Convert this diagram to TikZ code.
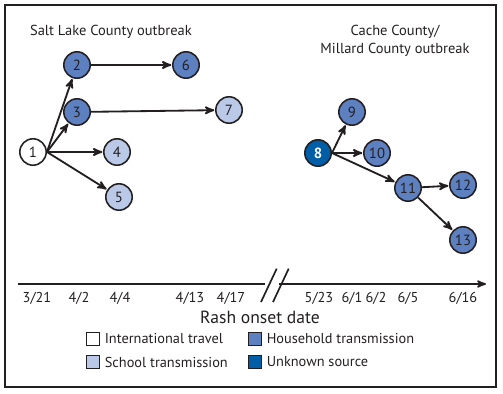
\documentclass[tikz,border=0pt]{standalone}
\usepackage{fontspec}
\setmainfont{PT Sans}
\usepackage{tikz}
\usetikzlibrary{arrows,positioning,calc}
\definecolor{household}{RGB}{93,128,193}
\definecolor{school}{RGB}{186,201,231}
\definecolor{unknown}{RGB}{0,94,166}
\definecolor{ink}{RGB}{35,31,32}
\tikzset{
 case/.style={circle, draw=ink, line width=1.1pt, minimum size=0.66cm, inner sep=0pt, font=\fontsize{10.5}{12}\selectfont, text=ink},
 travel/.style={case, fill=white},
 house/.style={case, fill=household},
 schl/.style={case, fill=school},
 unkn/.style={case, fill=unknown, text=white, font=\fontsize{10.5}{12}\selectfont\bfseries},
 datelbl/.style={font=\fontsize{10.2}{11}\selectfont, text=ink},
 keybox/.style={draw=ink, line width=1.1pt, minimum size=0.32cm, inner sep=0pt},
 keytext/.style={font=\fontsize{10.2}{11}\selectfont, text=ink, right=2pt of #1, inner sep=1pt}
}

\begin{document}
\begin{tikzpicture}[->,>=stealth',shorten >=0.5pt,auto,x=0.025cm,y=-0.025cm,
 semithick]
\useasboundingbox (0,0) rectangle (503,393);
\draw[-, line width=1.6pt, ink] (5,5) rectangle (496,387);
% titles
\node[font=\fontsize{10.3}{12.5}\selectfont, text=ink, anchor=west] (slc) at (25,32) {Salt Lake County outbreak};
\node[font=\fontsize{10.3}{12.5}\selectfont, text=ink, align=center] (cache) at (395,41) {Cache County/\\Millard County outbreak};
% cases
\node[travel] (c1) at (33,152) {1};
\node[house] (c2) at (77,65) {2};
\node[house] (c3) at (77,112) {3};
\node[schl] (c4) at (117,152) {4};
\node[schl] (c5) at (119,197) {5};
\node[house] (c6) at (186,65) {6};
\node[schl] (c7) at (229,110) {7};
\node[unkn] (c8) at (318,153) {8};
\node[house] (c9) at (352,112) {9};
\node[house] (c10) at (377,153) {10};
\node[house] (c11) at (408,188) {11};
\node[house] (c12) at (463,185) {12};
\node[house] (c13) at (463,240) {13};
% transmission
\path[ink, line width=1.3pt] (c1.east) edge (c2)
 (c1.east) edge (c3)
 (c1.east) edge (c4)
 (c1.east) edge (c5)
 (c2) edge (c6)
 (c3) edge (c7)
 (c8.east) edge (c9)
 (c8.east) edge (c10)
 (c8.east) edge (c11)
 (c11) edge (c12)
 (c11) edge (c13);
% time axis
\coordinate (axL) at (18,284);
\coordinate (brkA) at (266,284);
\coordinate (brkB) at (279,284);
\coordinate (axR) at (486,284);
\draw[-, ink, line width=1.2pt] (axL) -- (brkA);
\draw[ink, line width=1.2pt, shorten >=0pt] (brkB) -- (axR);
\draw[-, ink, line width=1.2pt] ($(brkA)+(-5,18)$) -- ($(brkA)+(11,-16)$);
\draw[-, ink, line width=1.2pt] ($(brkB)+(-6,18)$) -- ($(brkB)+(10,-16)$);
\node[datelbl] (d1) at (37,298) {3/21};
\node[datelbl] (d2) at (79,298) {4/2};
\node[datelbl] (d3) at (120,298) {4/4};
\node[datelbl] (d4) at (190,298) {4/13};
\node[datelbl] (d5) at (231,298) {4/17};
\node[datelbl] (d6) at (319,298) {5/23};
\node[datelbl] (d7) at (352,298) {6/1};
\node[datelbl] (d8) at (376,298) {6/2};
\node[datelbl] (d9) at (408,298) {6/5};
\node[datelbl] (d10) at (463,298) {6/16};
\node[font=\fontsize{12.5}{14}\selectfont, text=ink] (xlab) at (260,317) {Rash onset date};
% legend
\node[keybox, fill=white] (k1) at (93,339) {};
\node[keytext=k1] (k1t) {International travel};
\node[keybox, fill=school] (k2) at (93,362) {};
\node[keytext=k2] (k2t) {School transmission};
\node[keybox, fill=household] (k3) at (255,339) {};
\node[keytext=k3] (k3t) {Household transmission};
\node[keybox, fill=unknown] (k4) at (255,362) {};
\node[keytext=k4] (k4t) {Unknown source};
\end{tikzpicture}
\end{document}
